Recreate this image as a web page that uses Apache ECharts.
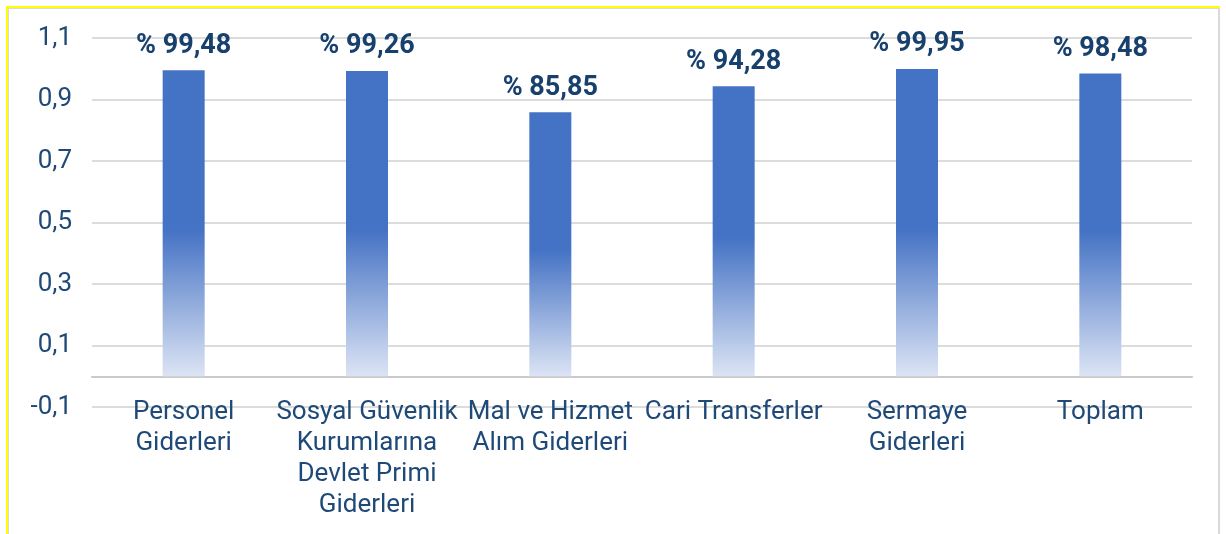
<!DOCTYPE html>
<html><head><meta charset="utf-8">
<script src="https://cdn.jsdelivr.net/npm/echarts@6/dist/echarts.min.js"></script>
<style>
html,body{margin:0;padding:0;background:#fff;}
#frame{position:absolute;left:6px;top:6px;width:1214px;height:540px;border-left:2px solid #ffff00;border-top:2px solid #ffff00;box-sizing:border-box;}
#inner{position:absolute;left:8px;top:8px;width:1212px;height:540px;border-left:1px solid #d9d9d9;border-top:1px solid #d9d9d9;border-right:2px solid #d9d9d9;box-sizing:border-box;}
#c{position:absolute;left:0;top:0;width:1226px;height:534px;}
</style></head>
<body>
<div id="frame"></div><div id="inner"></div>
<div id="c"></div>
<script>
const categories = ['Personel\nGiderleri','Sosyal Güvenlik\nKurumlarına\nDevlet Primi\nGiderleri','Mal ve Hizmet\nAlım Giderleri','Cari Transferler','Sermaye\nGiderleri','Toplam'];
const values = [0.9948, 0.9926, 0.8585, 0.9428, 0.9995, 0.9848];
const yTickLabels = ['-0,1','0,1','0,3','0,5','0,7','0,9','1,1'];

const chart = echarts.init(document.getElementById('c'), null, {renderer:'canvas'});
const font = 'Roboto, "Noto Sans", sans-serif';
chart.setOption({
  animation:false,
  grid:{left:92,right:34,top:38,bottom:127,containLabel:false,outerBoundsMode:'none'},
  xAxis:{type:'category',data:categories,
    axisLine:{onZero:true,lineStyle:{color:'#cacaca',width:2}},
    axisTick:{show:false},
    axisLabel:{interval:0,margin:-10,fontSize:26,lineHeight:31,color:'#1f4a78',fontFamily:font}},
  yAxis:[
    {type:'value',min:-0.1,max:1.1,show:false,splitLine:{show:false}},
    {type:'category',data:yTickLabels,boundaryGap:false,position:'left',
     axisLine:{show:false},axisTick:{show:false},
     axisLabel:{margin:20,fontSize:26,color:'#1f4a78',fontFamily:font},
     splitLine:{show:true,lineStyle:{color:'#dcdcdc',width:2}}}
  ],
  series:[{type:'bar',yAxisIndex:0,data:values,barWidth:42,
    itemStyle:{color:new echarts.graphic.LinearGradient(0,0,0,1,[
      {offset:0,color:'#4472c4'},{offset:0.52,color:'#4472c4'},{offset:1,color:'#dce4f4'}])},
    label:{show:true,position:'top',distance:11,fontSize:27,fontWeight:'bold',color:'#17406d',fontFamily:font,
      formatter:p=>'% '+(p.value*100).toFixed(2).replace('.',',')}
  }]
});
</script>
</body></html>
